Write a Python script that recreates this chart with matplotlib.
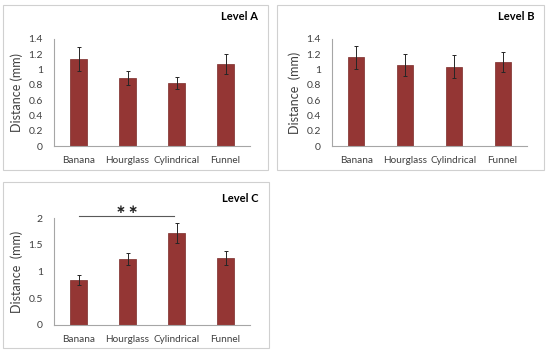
import matplotlib
matplotlib.use("Agg")
import matplotlib.pyplot as plt
from matplotlib.patches import Rectangle

categories = ["Banana", "Hourglass", "Cylindrical", "Funnel"]
level_a = [1.14, 0.89, 0.82, 1.07]
err_a = [0.16, 0.09, 0.08, 0.13]
level_b = [1.16, 1.06, 1.04, 1.10]
err_b = [0.15, 0.14, 0.15, 0.13]
level_c = [0.84, 1.23, 1.72, 1.25]
err_c = [0.10, 0.11, 0.18, 0.13]
yticks_ab = [0, 0.2, 0.4, 0.6, 0.8, 1, 1.2, 1.4]
yticks_c = [0, 0.5, 1, 1.5, 2]

plt.rcParams['font.family'] = ['Lato', 'DejaVu Sans']
W, H = 550, 355
fig = plt.figure(figsize=(5.5, 3.55), dpi=100)

BAR = '#943634'
EDGE = '#7a2a28'
AXC = '#a6a6a6'
TXT = '#404040'

# panel frames
for (x0, y0, x1, y1) in [(3, 5, 268, 170), (277, 5, 544, 170), (3, 182, 269, 348)]:
    fig.patches.append(Rectangle((x0 / W, 1 - y1 / H), (x1 - x0) / W, (y1 - y0) / H,
                                 transform=fig.transFigure, fill=False,
                                 edgecolor='#d0d0d0', linewidth=0.8))

def panel(rect, vals, errs, ylim, yticks, title, ylabel, title_xy):
    l, t, r, b = rect
    ax = fig.add_axes([l / W, 1 - b / H, (r - l) / W, (b - t) / H])
    x = list(range(len(categories)))
    ax.bar(x, vals, width=0.33, color=BAR, edgecolor=EDGE, linewidth=0.5)
    ax.errorbar(x, vals, yerr=errs, fmt='none', ecolor='#262626', elinewidth=0.7,
                capsize=1.5, capthick=0.7)
    ax.set_xlim(-0.5, 3.5)
    ax.set_ylim(*ylim)
    ax.set_yticks(yticks)
    ax.set_yticklabels([f"{v:g}" for v in yticks])
    ax.set_xticks(x)
    ax.set_xticklabels(categories, fontsize=7.2)
    ax.tick_params(axis='both', length=0, colors=TXT)
    ax.tick_params(axis='y', pad=8, labelsize=7.5)
    ax.tick_params(axis='x', pad=7)
    for s in ['top', 'right']:
        ax.spines[s].set_visible(False)
    for s in ['left', 'bottom']:
        ax.spines[s].set_color(AXC)
        ax.spines[s].set_linewidth(0.8)
    ax.set_ylabel(ylabel, fontsize=9, color=TXT, labelpad=4)
    fig.text(title_xy[0] / W, 1 - title_xy[1] / H, title, ha='right', va='center',
             fontsize=8, fontweight='bold', color='#000000')
    return ax

panel((54, 39, 250, 146), level_a, err_a, (0, 1.4), yticks_ab, "Level A", "Distance (mm)", (258, 17))
panel((332, 39, 527, 146), level_b, err_b, (0, 1.4), yticks_ab, "Level B", "Distance  (mm)", (534, 17))
axc = panel((54, 218, 250, 325), level_c, err_c, (0, 2), yticks_c, "Level C", "Distance  (mm)", (258, 198))

axc.plot([0.02, 1.94], [2.03, 2.03], color='#595959', linewidth=0.8, clip_on=False)
axc.text(1, 2.04, "\u2217\u2009\u2217", ha='center', va='bottom', fontsize=8.5, fontweight='bold',
         color='#262626', family=['DejaVu Sans'])

fig.savefig("out.png", dpi=100)
